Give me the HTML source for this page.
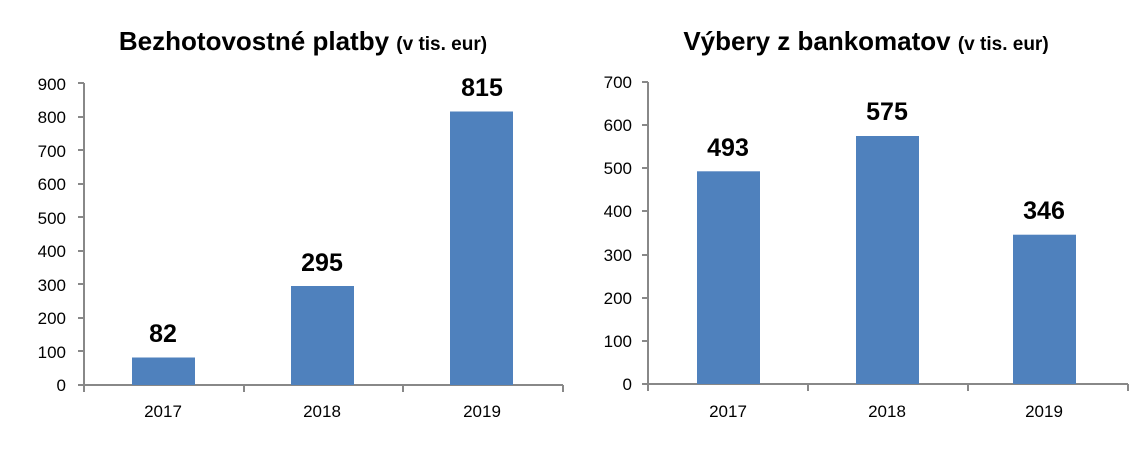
<!DOCTYPE html>
<html><head><meta charset="utf-8"><style>
body{margin:0;background:#fff;}
svg text{font-family:"Liberation Sans",sans-serif;}
</style></head><body>
<svg width="1145" height="447" viewBox="0 0 1145 447">
<rect width="1145" height="447" fill="#fff"/>
<!-- Left -->
<text x="303" y="50" text-anchor="middle" font-weight="bold" font-size="26">Bezhotovostné platby <tspan font-size="19">(v tis. eur)</tspan></text>
<g stroke="#888" stroke-width="2" fill="none">
<path d="M84 83V385H563M84 385v7M244 385v7M403 385v7M563 385v7"/>
<path d="M78 83h6M78 117h6M78 150h6M78 184h6M78 217h6M78 251h6M78 284h6M78 318h6M78 351h6M78 385h6"/>
</g>
<g font-size="17" text-anchor="end">
<text x="66" y="90">900</text><text x="66" y="123">800</text><text x="66" y="157">700</text><text x="66" y="190">600</text><text x="66" y="224">500</text><text x="66" y="257">400</text><text x="66" y="291">300</text><text x="66" y="324">200</text><text x="66" y="358">100</text><text x="66" y="391">0</text>
</g>
<g fill="#4f81bd">
<rect x="132" y="357.5" width="63" height="27.5"/>
<rect x="291" y="286" width="63" height="99"/>
<rect x="450" y="111.5" width="63" height="273.5"/>
</g>
<g font-size="25" font-weight="bold" text-anchor="middle">
<text x="163" y="342">82</text><text x="322" y="271">295</text><text x="482" y="96">815</text>
</g>
<g font-size="17" text-anchor="middle">
<text x="163" y="417">2017</text><text x="322" y="417">2018</text><text x="482" y="417">2019</text>
</g>
<!-- Right -->
<text x="866" y="50" text-anchor="middle" font-weight="bold" font-size="26">Výbery z bankomatov <tspan font-size="19">(v tis. eur)</tspan></text>
<g stroke="#888" stroke-width="2" fill="none">
<path d="M648 82V384H1128M648 384v7M808 384v7M968 384v7M1128 384v7"/>
<path d="M642 82h6M642 125h6M642 168h6M642 211h6M642 255h6M642 298h6M642 341h6M642 384h6"/>
</g>
<g font-size="17" text-anchor="end">
<text x="632" y="88">700</text><text x="632" y="131">600</text><text x="632" y="174">500</text><text x="632" y="217">400</text><text x="632" y="261">300</text><text x="632" y="304">200</text><text x="632" y="347">100</text><text x="632" y="390">0</text>
</g>
<g fill="#4f81bd">
<rect x="697" y="171.3" width="63" height="212.7"/>
<rect x="856" y="136" width="63" height="248"/>
<rect x="1013" y="234.7" width="63" height="149.3"/>
</g>
<g font-size="25" font-weight="bold" text-anchor="middle">
<text x="728" y="156">493</text><text x="887" y="120">575</text><text x="1044" y="219">346</text>
</g>
<g font-size="17" text-anchor="middle">
<text x="728" y="417">2017</text><text x="887" y="417">2018</text><text x="1044" y="417">2019</text>
</g>
</svg>
</body></html>
